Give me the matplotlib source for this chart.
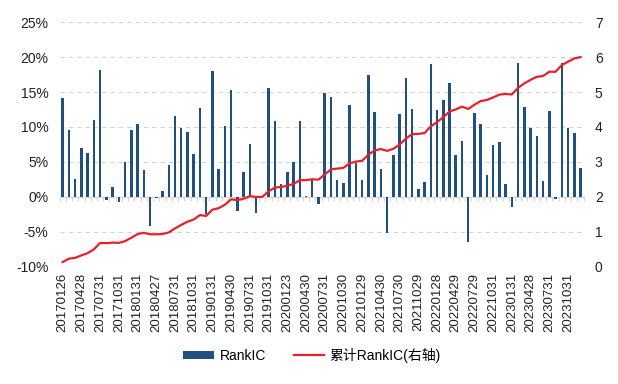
import numpy as np
import matplotlib
matplotlib.use("Agg")
import matplotlib.pyplot as plt

plt.rcParams['font.family'] = ['Liberation Sans', 'Noto Sans CJK SC', 'DejaVu Sans']

# 月度 RankIC (%)
rank_ic = [14.2, 9.5, 2.5, 7.0, 6.3, 11.0, 18.2, -0.5, 1.4, -0.7,
           5.0, 9.6, 10.4, 3.9, -4.2, -0.2, 0.8, 4.5, 11.6, 9.9,
           9.3, 6.2, 12.7, -2.5, 18.0, 4.0, 10.1, 15.3, -2.0, 3.6,
           7.6, -2.3, 0.2, 15.6, 10.8, 1.8, 3.6, 5.0, 10.8, 0.2,
           2.4, -1.0, 14.9, 14.3, 2.4, 2.0, 13.1, 4.8, 2.4, 17.4,
           12.1, 4.0, -5.2, 6.0, 11.9, 17.0, 12.6, 1.2, 2.1, 19.0,
           12.4, 13.9, 16.3, 6.0, 8.0, -6.5, 12.0, 10.4, 3.1, 7.4,
           7.9, 1.9, -1.5, 19.1, 12.8, 9.9, 8.7, 2.3, 12.3, -0.3,
           19.2, 9.8, 9.1, 4.1]

# 每三个月一个标签
tick_labels = ["20170126", "20170428", "20170731", "20171031", "20180131",
               "20180427", "20180731", "20181031", "20190131", "20190430",
               "20190731", "20191031", "20200123", "20200430", "20200731",
               "20201030", "20210129", "20210430", "20210730", "20211029",
               "20220128", "20220429", "20220729", "20221031", "20230131",
               "20230428", "20230731", "20231031"]

ic = np.array(rank_ic) / 100
cum_ic = np.cumsum(ic)  # 累计RankIC
x = np.arange(len(ic))

fig = plt.figure(figsize=(6.18, 3.84), dpi=100)
ax = fig.add_axes([0.0964, 0.3047, 0.848, 0.638])
ax2 = ax.twinx()

bar_color = '#1f5080'
line_color = '#e8202a'

ax.bar(x, ic, width=0.4, color=bar_color, zorder=3, label='RankIC')
ax2.plot(x, cum_ic, color=line_color, lw=1.6, zorder=4, label='累计RankIC(右轴)')

ax.set_ylim(-0.10, 0.25)
ax.set_yticks(np.arange(-0.10, 0.251, 0.05))
ax.set_yticklabels(['%d%%' % round(v * 100) for v in np.arange(-0.10, 0.251, 0.05)])
ax2.set_ylim(0, 7)
ax2.set_yticks(range(8))

ax.set_xlim(-0.5, len(ic) - 0.5)
ax.set_xticks(x[::3])
ax.set_xticklabels(tick_labels, rotation=90, fontsize=9.5, color='#222222')
ax.tick_params(axis='x', length=0, pad=4)
ax.tick_params(axis='y', length=0, labelsize=10, colors='#222222', pad=8)
ax2.tick_params(axis='y', length=0, labelsize=10, colors='#222222', pad=8)

for v in np.arange(-0.10, 0.251, 0.05):
    if abs(v) > 1e-9:
        ax.axhline(v, color='#d4d4d4', lw=0.8, ls=(0, (4, 3.5)), zorder=1)

for a in (ax, ax2):
    for s in a.spines.values():
        s.set_visible(False)

# 零轴及刻度
zero_ax = ax.secondary_xaxis(10 / 35)
zero_ax.spines['bottom'].set_color('#d4d4d4')
zero_ax.spines['bottom'].set_linewidth(0.8)
zero_ax.set_xticks(np.arange(-0.5, len(ic), 1.0))
zero_ax.set_xticklabels([])
zero_ax.tick_params(axis='x', length=3, color='#d4d4d4', width=0.8)

h1, l1 = ax.get_legend_handles_labels()
h2, l2 = ax2.get_legend_handles_labels()
fig.legend(h1 + h2, l1 + l2, loc='center', bbox_to_anchor=(0.505, 0.075),
           ncol=2, frameon=False, fontsize=10, handlelength=2.2,
           handleheight=0.5, handletextpad=0.4, columnspacing=2.0)

fig.savefig('out.png', dpi=100)
